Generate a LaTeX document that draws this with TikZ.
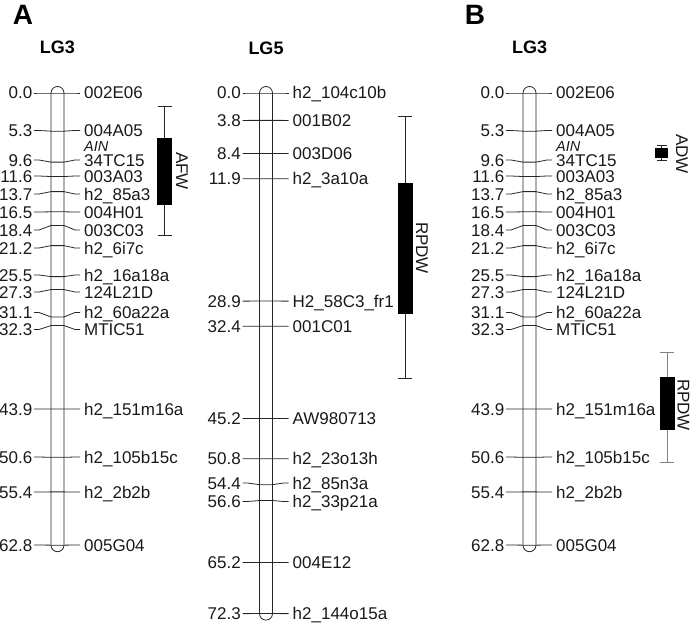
\documentclass[tikz,border=0pt]{standalone}
\usepackage{fontspec}
\setmainfont{Liberation Sans}
\usepackage{tikz}
\usetikzlibrary{positioning}

% one marker: prefix, chromosome centre x, cM, label y, name, tag
\newcommand{\mk}[6]{%
  \node[num] (#1n#6) at (#2-25, #4) {#3};
  \node[mrk] (#1m#6) at (#2+26.5, #4) {#5};
  \coordinate (#1l#6) at (#2-6.5, 93+7.2*#3);
  \coordinate (#1r#6) at (#2+6.5, 93+7.2*#3);
  \draw[tick] (#1n#6.east) ++(1.5,0) -- ++(5,0) -- (#1l#6) -- (#1r#6)
    -- ([xshift=-9]#1m#6.west) -- ([xshift=-4]#1m#6.west);
}

\begin{document}
\begin{tikzpicture}[
  x=1pt, y=-1pt,
  num/.style={inner sep=0pt, text height=12pt, text depth=0pt, anchor=east,
              text=black!90, font=\fontsize{17}{19}\selectfont},
  mrk/.style={num, anchor=west},
  gene/.style={mrk, text height=10pt, font=\fontsize{14.5}{16}\selectfont\itshape},
  tick/.style={black!85, line width=0.8pt},
  chrom/.style={draw=black!85, line width=0.8pt, rounded corners=6.5pt},
  qbox/.style={fill=black, draw=black, inner sep=0pt, minimum width=14pt},
  qlab/.style={inner sep=0pt, rotate=-90, text=black!90, font=\fontsize{17}{19}\selectfont},
  ttl/.style={inner sep=0pt, font=\fontsize{28}{30}\selectfont\bfseries},
  lg/.style={inner sep=0pt, font=\fontsize{18}{20}\selectfont\bfseries}
]
  \useasboundingbox (0,0) rectangle (692,623);

  % titles
  \node[ttl] (pA) at (23,15) {A};
  \node[ttl] (pB) at (475,15) {B};
  \node[lg] (lgA) at (57.5,47.5) {LG3};
  \node[lg] (lgC) at (266,48.5) {LG5};
  \node[lg] (lgB) at (529.5,47.5) {LG3};

  % chromosomes
  \draw[chrom] (51,86.5) rectangle (64,551.7);
  \draw[chrom] (259.5,86.5) rectangle (272.5,620.1);
  \draw[chrom] (523,86.5) rectangle (536,551.7);

  % A, LG3
  \mk{a}{57.5}{0.0}{93}{002E06}{1}
  \mk{a}{57.5}{5.3}{130.5}{004A05}{2}
  \mk{a}{57.5}{9.6}{160}{34TC15}{3}
  \mk{a}{57.5}{11.6}{176}{003A03}{4}
  \mk{a}{57.5}{13.7}{194}{h2\_85a3}{5}
  \mk{a}{57.5}{16.5}{212}{004H01}{6}
  \mk{a}{57.5}{18.4}{230}{003C03}{7}
  \mk{a}{57.5}{21.2}{248}{h2\_6i7c}{8}
  \mk{a}{57.5}{25.5}{275}{h2\_16a18a}{9}
  \mk{a}{57.5}{27.3}{292}{124L21D}{10}
  \mk{a}{57.5}{31.1}{312.5}{h2\_60a22a}{11}
  \mk{a}{57.5}{32.3}{329.5}{MTIC51}{12}
  \mk{a}{57.5}{43.9}{409}{h2\_151m16a}{13}
  \mk{a}{57.5}{50.6}{457}{h2\_105b15c}{14}
  \mk{a}{57.5}{55.4}{492}{h2\_2b2b}{15}
  \mk{a}{57.5}{62.8}{545}{005G04}{16}
  \node[gene, above=2.5pt of am3.north west, anchor=south west] (aain) {AIN};

  % A, LG5
  \mk{c}{266}{0.0}{93}{h2\_104c10b}{1}
  \mk{c}{266}{3.8}{120.4}{001B02}{2}
  \mk{c}{266}{8.4}{153.5}{003D06}{3}
  \mk{c}{266}{11.9}{178.7}{h2\_3a10a}{4}
  \mk{c}{266}{28.9}{301.1}{H2\_58C3\_fr1}{5}
  \mk{c}{266}{32.4}{326.3}{001C01}{6}
  \mk{c}{266}{45.2}{418.4}{AW980713}{7}
  \mk{c}{266}{50.8}{458.8}{h2\_23o13h}{8}
  \mk{c}{266}{54.4}{483}{h2\_85n3a}{9}
  \mk{c}{266}{56.6}{501.5}{h2\_33p21a}{10}
  \mk{c}{266}{65.2}{562.4}{004E12}{11}
  \mk{c}{266}{72.3}{613.6}{h2\_144o15a}{12}

  % B, LG3
  \mk{b}{529.5}{0.0}{93}{002E06}{1}
  \mk{b}{529.5}{5.3}{130.5}{004A05}{2}
  \mk{b}{529.5}{9.6}{160}{34TC15}{3}
  \mk{b}{529.5}{11.6}{176}{003A03}{4}
  \mk{b}{529.5}{13.7}{194}{h2\_85a3}{5}
  \mk{b}{529.5}{16.5}{212}{004H01}{6}
  \mk{b}{529.5}{18.4}{230}{003C03}{7}
  \mk{b}{529.5}{21.2}{248}{h2\_6i7c}{8}
  \mk{b}{529.5}{25.5}{275}{h2\_16a18a}{9}
  \mk{b}{529.5}{27.3}{292}{124L21D}{10}
  \mk{b}{529.5}{31.1}{312.5}{h2\_60a22a}{11}
  \mk{b}{529.5}{32.3}{329.5}{MTIC51}{12}
  \mk{b}{529.5}{43.9}{409}{h2\_151m16a}{13}
  \mk{b}{529.5}{50.6}{457}{h2\_105b15c}{14}
  \mk{b}{529.5}{55.4}{492}{h2\_2b2b}{15}
  \mk{b}{529.5}{62.8}{545}{005G04}{16}
  \node[gene, above=2.5pt of bm3.north west, anchor=south west] (bain) {AIN};

  % QTL: AFW
  \coordinate (afwT) at (164.5,106.7);
  \coordinate (afwB) at (164.5,235.7);
  \draw[tick] (afwT) -- (afwB);
  \draw[tick] ([xshift=-7]afwT) -- ([xshift=7]afwT);
  \draw[tick] ([xshift=-7]afwB) -- ([xshift=7]afwB);
  \node[qbox, minimum height=65.4pt] (afw) at (164.5,171) {};
  \node[qlab] (afwL) at (182,171) {AFW};

  % QTL: RPDW on LG5
  \coordinate (rpcT) at (405.3,116.7);
  \coordinate (rpcB) at (405.3,378.3);
  \draw[tick] (rpcT) -- (rpcB);
  \draw[tick] ([xshift=-7]rpcT) -- ([xshift=7]rpcT);
  \draw[tick] ([xshift=-7]rpcB) -- ([xshift=7]rpcB);
  \node[qbox, minimum height=130.6pt] (rpc) at (405.3,248) {};
  \node[qlab] (rpcL) at (422,248) {RPDW};

  % QTL: ADW
  \coordinate (adwT) at (661.5,145);
  \coordinate (adwB) at (661.5,160.7);
  \draw[tick] (adwT) -- (adwB);
  \draw[tick] ([xshift=-5]adwT) -- ([xshift=5]adwT);
  \draw[tick] ([xshift=-5]adwB) -- ([xshift=5]adwB);
  \node[qbox, minimum width=12pt, minimum height=8.5pt] (adw) at (661.5,152.5) {};
  \node[qlab] (adwL) at (682,154) {ADW};

  % QTL: RPDW on B LG3
  \coordinate (rpbT) at (667,352.7);
  \coordinate (rpbB) at (667,462.7);
  \draw[tick, gray] (rpbT) -- (rpbB);
  \draw[tick, gray] ([xshift=-7]rpbT) -- ([xshift=7]rpbT);
  \draw[tick, gray] ([xshift=-7]rpbB) -- ([xshift=7]rpbB);
  \node[qbox, minimum height=52pt] (rpb) at (667,403.3) {};
  \node[qlab] (rpbL) at (683.5,405) {RPDW};
\end{tikzpicture}
\end{document}
